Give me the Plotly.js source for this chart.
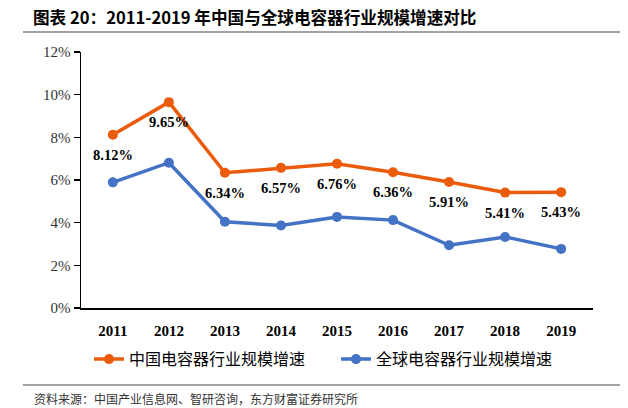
<!DOCTYPE html>
<html>
<head>
<meta charset="utf-8">
<script src="https://cdn.plot.ly/plotly-3.0.1.min.js"></script>
<style>html,body{margin:0;padding:0;background:#fff;}#chart{width:628px;height:408px;}</style>
</head>
<body>
<div id="chart"></div>
<script>
const years = ['2011','2012','2013','2014','2015','2016','2017','2018','2019'];
const chinaGrowth = [8.12, 9.65, 6.34, 6.57, 6.76, 6.36, 5.91, 5.41, 5.43];
const globalGrowth = [5.89, 6.81, 4.04, 3.87, 4.27, 4.12, 2.94, 3.33, 2.77];
const chinaName = '中国电容器行业规模增速';
const globalName = '全球电容器行业规模增速';
const chinaLabels = chinaGrowth.map(v => v.toFixed(2) + '%');

const serif = '"Liberation Serif", "Times New Roman", serif';
const cjk = '"Noto Sans CJK SC", sans-serif';

const traces = [
  {
    x: years, y: chinaGrowth, name: chinaName, type: 'scatter', mode: 'lines+markers',
    line: {color: '#EB5B0C', width: 3.5},
    marker: {color: '#EB5B0C', size: 10}
  },
  {
    x: years, y: globalGrowth, name: globalName, type: 'scatter', mode: 'lines+markers',
    line: {color: '#4472C4', width: 3.5},
    marker: {color: '#4472C4', size: 10}
  }
];

const labelAnnotations = years.map((yr, i) => ({
  x: i, y: chinaGrowth[i], xref: 'x', yref: 'y', text: '<b>' + chinaLabels[i] + '</b>',
  showarrow: false, yshift: -20, xanchor: 'center', yanchor: 'middle',
  font: {family: serif, size: 14.5, color: '#000'}
}));

const layout = {
  width: 628, height: 408,
  margin: {l: 81, r: 35, t: 52, b: 100},
  paper_bgcolor: '#fff', plot_bgcolor: '#fff',
  showlegend: true,
  title: {
    text: '<b>图表 20：2011-2019 年中国与全球电容器行业规模增速对比</b>',
    font: {family: cjk, size: 16.6, color: '#000'},
    x: 33/628, xanchor: 'left', xref: 'container',
    y: 1 - 18/408, yanchor: 'middle', yref: 'container'
  },
  xaxis: {
    type: 'category', showline: true, linecolor: '#000', linewidth: 1.5,
    ticks: 'outside', ticklen: 8, tickcolor: 'rgba(0,0,0,0)',
    showgrid: false, zeroline: false,
    tickfont: {family: serif, size: 15, color: '#000', weight: 'bold'},
    fixedrange: true
  },
  yaxis: {
    range: [0, 12], dtick: 2, ticksuffix: '%',
    showline: true, linecolor: '#000', linewidth: 1.5,
    ticks: 'outside', ticklen: 6, tickcolor: '#000', tickwidth: 1.5,
    showgrid: false, zeroline: false,
    tickfont: {family: serif, size: 15, color: '#333'},
    fixedrange: true
  },
  legend: {
    orientation: 'h', x: 8/512, xanchor: 'left', y: -0.2, yanchor: 'middle',
    font: {family: cjk, size: 16, color: '#000'},
    itemwidth: 30, entrywidth: 202, entrywidthmode: 'pixels'
  },
  shapes: [
    {type: 'line', xref: 'paper', yref: 'paper', x0: (23-81)/512, x1: (620-81)/512, y0: 1 + 20/256, y1: 1 + 20/256, line: {color: '#444', width: 1}},
    {type: 'line', xref: 'paper', yref: 'paper', x0: (23-81)/512, x1: (620-81)/512, y0: -77/256, y1: -77/256, line: {color: '#444', width: 1}}
  ],
  annotations: labelAnnotations.concat([
    {text: '资料来源：中国产业信息网、智研咨询，东方财富证券研究所', xref: 'paper', yref: 'paper',
     x: (32-81)/512, xanchor: 'left', y: -90/256, yanchor: 'middle', showarrow: false,
     font: {family: cjk, size: 12, color: '#333'}}
  ])
};

Plotly.newPlot('chart', traces, layout, {displayModeBar: false, staticPlot: true});
</script>
</body>
</html>
